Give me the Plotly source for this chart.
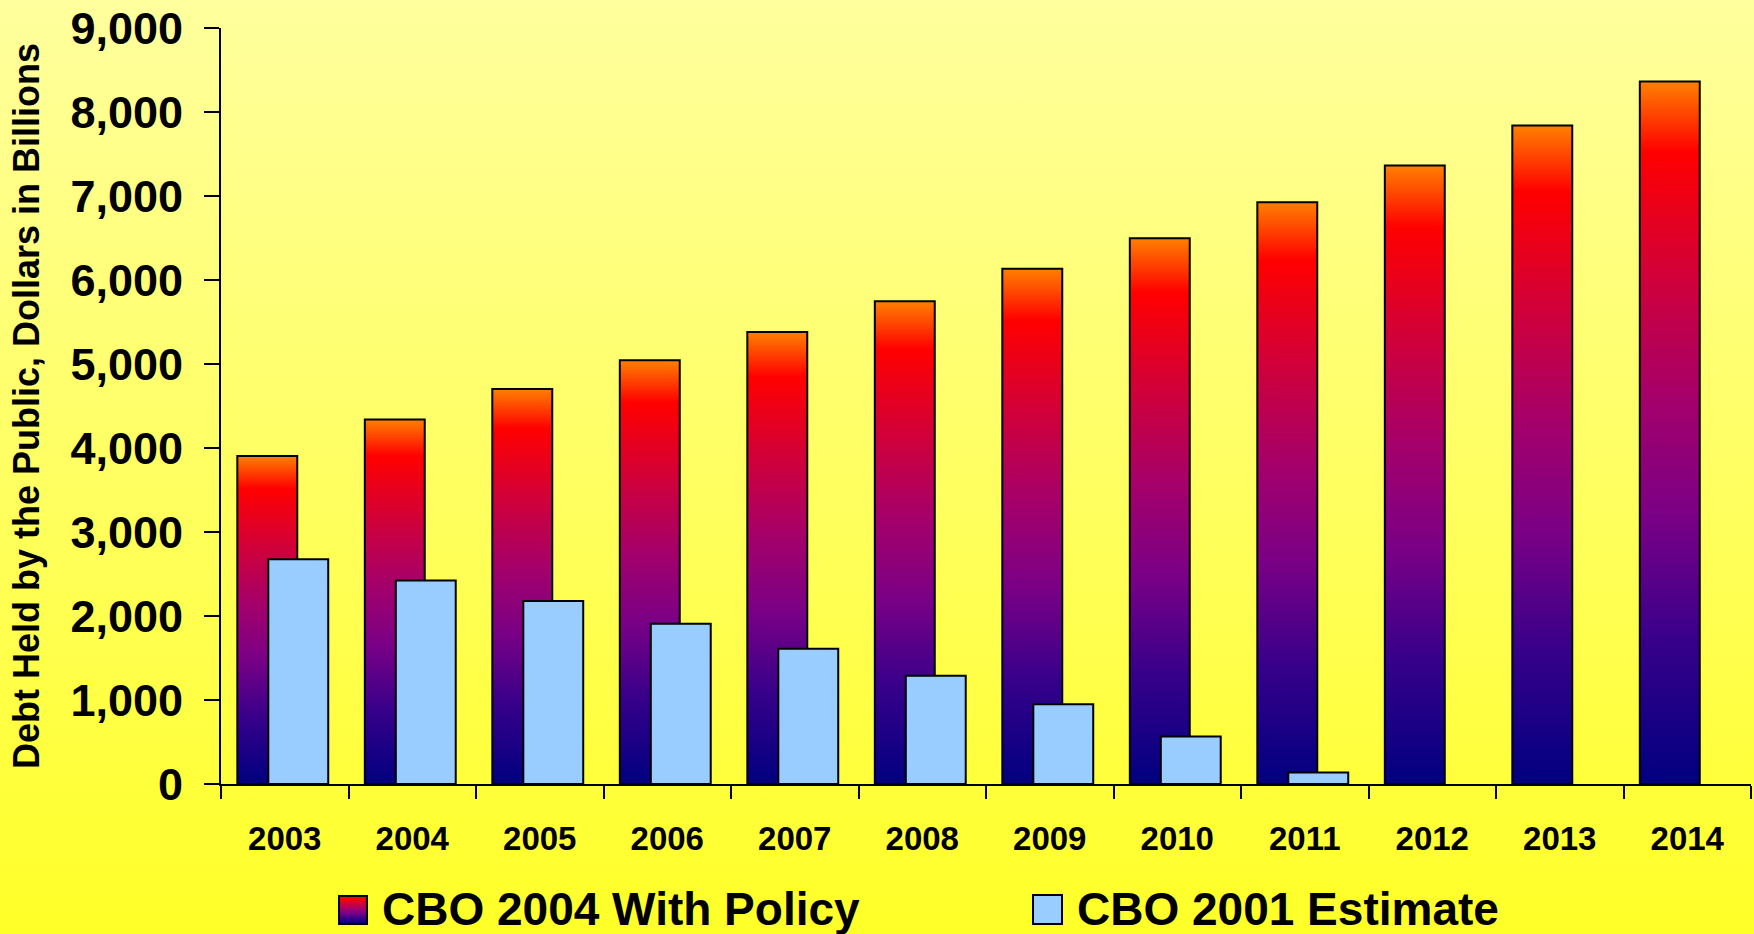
import base64
import plotly.graph_objects as go

years = ['2003', '2004', '2005', '2006', '2007', '2008',
         '2009', '2010', '2011', '2012', '2013', '2014']
cbo2004_with_policy = [3905, 4340, 4702, 5044, 5381, 5746, 6133, 6498, 6927, 7362, 7838, 8362]
cbo2001_estimate = [2676, 2423, 2179, 1908, 1611, 1290, 950, 566, 136, None, None, None]
y_ticks = [0, 1000, 2000, 3000, 4000, 5000, 6000, 7000, 8000, 9000]

W, H = 1754, 934
L, R, T, B = 221, 3, 28, 150
PW, PH = W - L - R, H - T - B

FONT = 'Liberation Sans, Arial, sans-serif'
RED_SCALE = [[0.0, '#000080'], [0.2, '#36008A'], [0.38, '#790086'],
             [0.55, '#A5006A'], [0.72, '#D0003A'], [0.9, '#FF0000'], [1.0, '#FF8000']]
BLUE = '#99CCFF'

RED_OFF, BLUE_OFF, BW = -0.372, -0.129, 0.47

fig = go.Figure()

for i, v in enumerate(cbo2004_with_policy):
    x0, x1 = i + RED_OFF, i + RED_OFF + BW
    fig.add_trace(go.Scatter(
        x=[x0, x0, x1, x1, x0], y=[0, v, v, 0, 0],
        mode='lines', fill='toself',
        fillgradient=dict(type='vertical', colorscale=RED_SCALE, start=0, stop=v),
        line=dict(color='black', width=2),
        name='CBO 2004 With Policy', legendgroup='a', showlegend=False,
        hovertext=f'{years[i]}: {v:,}', hoverinfo='text'))

for i, v in enumerate(cbo2001_estimate):
    if v is None:
        continue
    x0, x1 = i + BLUE_OFF, i + BLUE_OFF + BW
    fig.add_trace(go.Scatter(
        x=[x0, x0, x1, x1, x0], y=[0, v, v, 0, 0],
        mode='lines', fill='toself', fillcolor=BLUE,
        line=dict(color='black', width=2),
        name='CBO 2001 Estimate', legendgroup='b', showlegend=False,
        hovertext=f'{years[i]}: {v:,}', hoverinfo='text'))


def svg_uri(svg):
    return 'data:image/svg+xml;base64,' + base64.b64encode(svg.encode()).decode()


bg_svg = ('<svg xmlns="http://www.w3.org/2000/svg" viewBox="0 0 100 100" '
          'preserveAspectRatio="none" width="100" height="100">'
          '<defs><linearGradient id="g" x1="0" y1="0" x2="0" y2="1">'
          '<stop offset="0" stop-color="#FFFF9E"/><stop offset="1" stop-color="#FFFF28"/>'
          '</linearGradient></defs><rect width="100" height="100" fill="url(#g)"/></svg>')

red_sw = ('<svg xmlns="http://www.w3.org/2000/svg" viewBox="0 0 30 30" '
          'preserveAspectRatio="none" width="30" height="30">'
          '<defs><linearGradient id="r" x1="0" y1="1" x2="0" y2="0">'
          + ''.join(f'<stop offset="{p}" stop-color="{c}"/>' for p, c in RED_SCALE[:-1])
          + '</linearGradient></defs>'
          '<rect x="1" y="1" width="28" height="28" fill="url(#r)" stroke="black" stroke-width="2"/></svg>')


def px_x(px):
    return (px - L) / PW


def px_y(py):
    return (H - B - py) / PH


images = [
    dict(source=svg_uri(bg_svg), xref='paper', yref='paper',
         x=px_x(0), y=px_y(0), sizex=W / PW, sizey=H / PH,
         xanchor='left', yanchor='top', sizing='stretch', layer='below'),
    dict(source=svg_uri(red_sw), xref='paper', yref='paper',
         x=px_x(338), y=px_y(895), sizex=30 / PW, sizey=30 / PH,
         xanchor='left', yanchor='top', sizing='stretch', layer='above'),
]

shapes = [
    dict(type='rect', xref='paper', yref='paper',
         x0=px_x(1033), x1=px_x(1062), y0=px_y(924), y1=px_y(895),
         fillcolor=BLUE, line=dict(color='black', width=2)),
]

legend_font = dict(family=FONT, size=46, color='black', weight='bold')
annotations = [
    dict(text='CBO 2004 With Policy', xref='paper', yref='paper',
         x=px_x(380), y=px_y(909), xanchor='left', yanchor='middle',
         showarrow=False, font=legend_font),
    dict(text='CBO 2001 Estimate', xref='paper', yref='paper',
         x=px_x(1075), y=px_y(909), xanchor='left', yanchor='middle',
         showarrow=False, font=legend_font),
]

fig.update_layout(
    width=W, height=H,
    margin=dict(l=L, r=R, t=T, b=B, pad=0),
    paper_bgcolor='#FFFF60', plot_bgcolor='rgba(0,0,0,0)',
    showlegend=False,
    images=images, shapes=shapes, annotations=annotations,
    font=dict(family=FONT, color='black'),
)

fig.update_xaxes(
    range=[-0.5, 11.5], autorange=False,
    tickmode='array', tickvals=list(range(len(years))), ticktext=years,
    ticks='', showgrid=False, zeroline=False,
    showline=True, linecolor='black', linewidth=2,
    tickfont=dict(family=FONT, size=33, color='black', weight='bold'),
    ticklabelstandoff=24,
    minor=dict(tickmode='array', tickvals=[i - 0.5 for i in range(len(years) + 1)],
               ticks='outside', ticklen=13, tickwidth=2, tickcolor='black', showgrid=False),
)

fig.update_yaxes(
    range=[0, 9000], autorange=False,
    tickmode='array', tickvals=y_ticks, tickformat=',d',
    ticks='outside', ticklen=15, tickwidth=2, tickcolor='black',
    showgrid=False, zeroline=False,
    showline=True, linecolor='black', linewidth=2,
    tickfont=dict(family=FONT, size=45, color='black', weight='bold'),
    ticklabelstandoff=12,
    title=dict(text='Debt Held by the Public, Dollars in Billions',
               font=dict(family=FONT, size=36, color='black', weight='bold'),
               standoff=20),
)

fig.write_html(
    'out.html',
    config={'displayModeBar': False},
    post_script="document.body.style.margin='0';document.body.style.overflow='hidden';",
)
